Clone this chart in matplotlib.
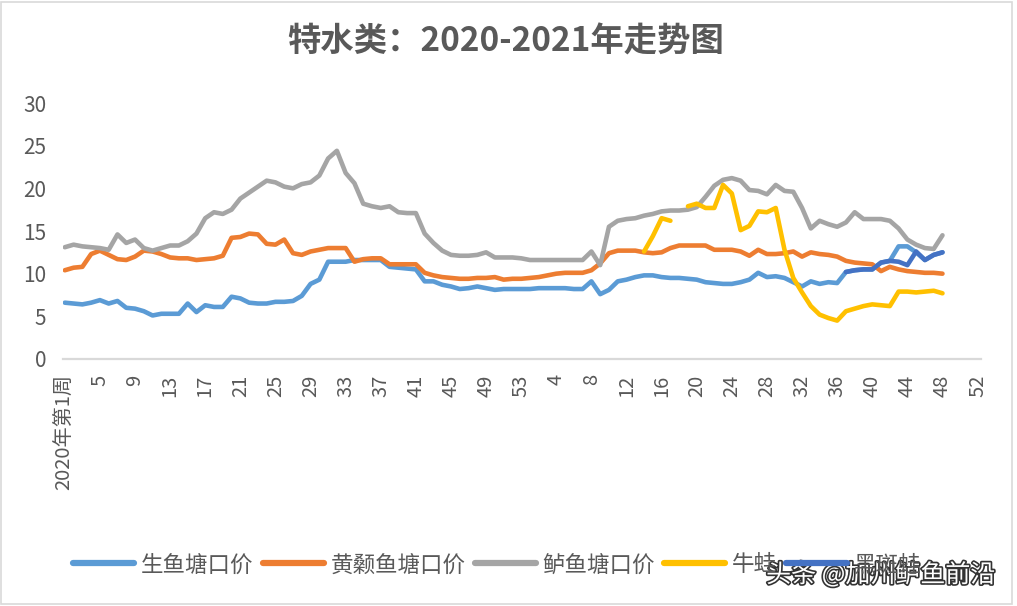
import numpy as np
import matplotlib
matplotlib.use('Agg')
import matplotlib.pyplot as plt
import matplotlib.patheffects as pe

plt.rcParams['font.family'] = ['Noto Sans CJK SC', 'DejaVu Sans']

nan = np.nan

# 类目：2020年第1-53周，2021年第1-52周
weeks_2020 = list(range(1, 54))
weeks_2021 = list(range(1, 53))
categories = ['2020年第1周'] + [str(w) for w in weeks_2020[1:]] + [str(w) for w in weeks_2021]

# 生鱼塘口价
shengyu = [6.6, 6.5, 6.4, 6.6, 6.9, 6.5, 6.8, 6.0, 5.9, 5.6,
           5.1, 5.3, 5.3, 5.3, 6.5, 5.5, 6.3, 6.1, 6.1, 7.3,
           7.1, 6.6, 6.5, 6.5, 6.7, 6.7, 6.8, 7.4, 8.8, 9.3,
           11.4, 11.4, 11.4, 11.6, 11.6, 11.6, 11.6, 10.8, 10.7, 10.6,
           10.5, 9.1, 9.1, 8.7, 8.5, 8.2, 8.3, 8.5, 8.3, 8.1,
           8.2, 8.2, 8.2, 8.2, 8.3, 8.3, 8.3, 8.3, 8.2, 8.2,
           9.1, 7.6, 8.1, 9.1, 9.3, 9.6, 9.8, 9.8, 9.6, 9.5,
           9.5, 9.4, 9.3, 9.0, 8.9, 8.8, 8.8, 9.0, 9.3, 10.1,
           9.6, 9.7, 9.5, 9.0, 8.5, 9.1, 8.8, 9.0, 8.9, 10.2,
           10.4, 10.5, 10.5, 11.3, 11.5, 13.2, 13.2, 12.5, 11.6, 12.2,
           12.5]

# 黄颡鱼塘口价
huangsang = [10.4, 10.7, 10.8, 12.3, 12.7, 12.2, 11.7, 11.6, 12.0, 12.7,
             12.6, 12.3, 11.9, 11.8, 11.8, 11.6, 11.7, 11.8, 12.1, 14.2,
             14.3, 14.7, 14.6, 13.5, 13.4, 14.0, 12.4, 12.2, 12.6, 12.8,
             13.0, 13.0, 13.0, 11.4, 11.7, 11.8, 11.8, 11.1, 11.1, 11.1,
             11.1, 10.1, 9.8, 9.6, 9.5, 9.4, 9.4, 9.5, 9.5, 9.6,
             9.3, 9.4, 9.4, 9.5, 9.6, 9.8, 10.0, 10.1, 10.1, 10.1,
             10.4, 11.2, 12.4, 12.7, 12.7, 12.7, 12.5, 12.4, 12.5, 13.0,
             13.3, 13.3, 13.3, 13.3, 12.8, 12.8, 12.8, 12.6, 12.1, 12.8,
             12.3, 12.3, 12.4, 12.6, 12.0, 12.5, 12.3, 12.2, 12.0, 11.5,
             11.3, 11.2, 11.1, 10.3, 10.8, 10.5, 10.3, 10.2, 10.1, 10.1,
             10.0]

# 鲈鱼塘口价
luyu = [13.1, 13.4, 13.2, 13.1, 13.0, 12.8, 14.6, 13.6, 14.0, 13.0,
        12.7, 13.0, 13.3, 13.3, 13.8, 14.7, 16.5, 17.2, 17.0, 17.5,
        18.8, 19.5, 20.2, 20.9, 20.7, 20.2, 20.0, 20.5, 20.7, 21.5,
        23.5, 24.4, 21.8, 20.6, 18.2, 17.9, 17.7, 17.9, 17.2, 17.1,
        17.1, 14.7, 13.6, 12.7, 12.2, 12.1, 12.1, 12.2, 12.5, 11.9,
        11.9, 11.9, 11.8, 11.6, 11.6, 11.6, 11.6, 11.6, 11.6, 11.6,
        12.6, 11.0, 15.5, 16.2, 16.4, 16.5, 16.8, 17.0, 17.3, 17.4,
        17.4, 17.5, 17.8, 19.0, 20.3, 21.0, 21.2, 20.9, 19.8, 19.7,
        19.3, 20.4, 19.7, 19.6, 17.7, 15.3, 16.2, 15.8, 15.5, 16.0,
        17.2, 16.4, 16.4, 16.4, 16.2, 15.3, 14.0, 13.4, 13.0, 12.9,
        14.5]

# 牛蛙（2021年第14周起）
niuwa = [nan] * 66 + [12.6, 14.4, 16.5, 16.2, nan,
                      17.9, 18.2, 17.7, 17.7, 20.4, 19.4, 15.1, 15.6, 17.3,
                      17.2, 17.7, 12.8, 9.5, 7.8, 6.2, 5.2, 4.8, 4.5, 5.6,
                      5.9, 6.2, 6.4, 6.3, 6.2, 7.9, 7.9, 7.8, 7.9, 8.0,
                      7.7]

# 黑斑蛙（2021年第37周起）
heibanwa = [nan] * 89 + [10.2, 10.4, 10.5, 10.5, 11.3, 11.5, 11.4, 11.0,
                         12.6, 11.6, 12.2, 12.5]

series = [
    ('生鱼塘口价', shengyu, '#5B9BD5'),
    ('黄颡鱼塘口价', huangsang, '#ED7D31'),
    ('鲈鱼塘口价', luyu, '#A5A5A5'),
    ('牛蛙', niuwa, '#FFC000'),
    ('黑斑蛙', heibanwa, '#4472C4'),
]

text_color = '#595959'

fig = plt.figure(figsize=(10.17, 6.06), dpi=100)
ax = fig.add_axes([0.062, 0.4076, 0.9027, 0.4224])

for name, values, color in series:
    ax.plot(range(len(values)), values, color=color, linewidth=3.3,
            label=name, solid_joinstyle='round', solid_capstyle='round')

ax.set_ylim(0, 30)
ax.set_yticks([0, 5, 10, 15, 20, 25, 30])
ax.set_xlim(-0.2, 104.4)
tick_pos = list(range(0, len(categories), 4))
ax.set_xticks(tick_pos)
ax.set_xticklabels([categories[i] for i in tick_pos], rotation=90, va='top', ha='center')

ax.tick_params(axis='y', length=0, pad=12, labelsize=15, colors=text_color)
ax.tick_params(axis='x', length=0, pad=11, labelsize=14.5, colors=text_color)

for side in ['top', 'right', 'left']:
    ax.spines[side].set_visible(False)
ax.spines['bottom'].set_color('#D9D9D9')
ax.spines['bottom'].set_linewidth(1.6)

fig.text(0.497, 0.93, '特水类：2020-2021年走势图', ha='center', va='center',
         fontsize=24, fontweight='bold', color=text_color)

leg = fig.legend(loc='center', bbox_to_anchor=(0.489, 0.068), ncol=5, frameon=False,
                 fontsize=16.2, handlelength=2.7, handletextpad=0.3, columnspacing=0.42)
for t in leg.get_texts():
    t.set_color(text_color)
for line in leg.get_lines():
    line.set_linewidth(4.5)

fig.text(0.866, 0.051, '头条 @加州鲈鱼前沿', ha='center', va='center', fontsize=18,
         color='white', path_effects=[pe.withStroke(linewidth=2.4, foreground='#333333')])

# 外框
fig.patches.append(plt.Rectangle((0.001, 0.004), 0.994, 0.992, transform=fig.transFigure,
                                 fill=False, edgecolor='#D9D9D9', linewidth=1.2))

plt.savefig('out.png', dpi=100)
